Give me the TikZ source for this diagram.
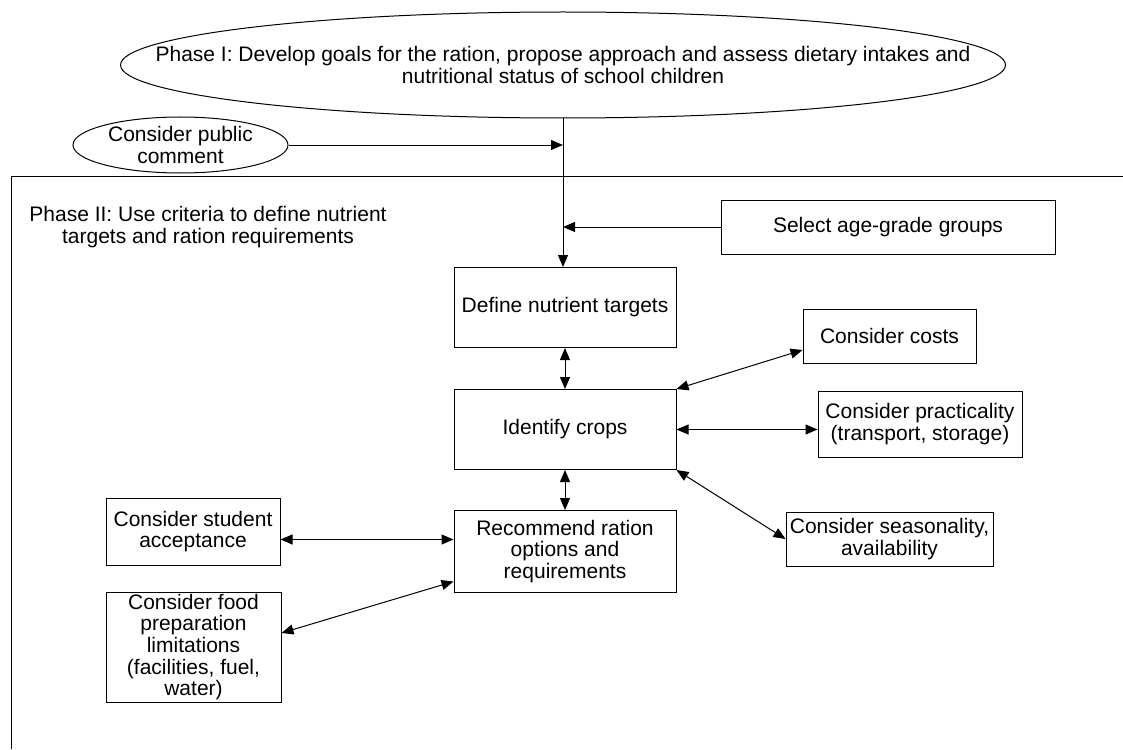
\documentclass[tikz,border=0pt]{standalone}
\usepackage{fontspec}
\setmainfont{Liberation Sans}
\usetikzlibrary{arrows.meta,shapes.geometric,positioning}

\begin{document}
\begin{tikzpicture}[x=0.5pt,y=-0.5pt,node distance=61pt,on grid,
  line width=0.5pt,>={Triangle[length=6pt,width=5pt]},
  every node/.style={font=\fontsize{10.5}{10.8}\selectfont},
  box/.style={draw,rectangle,align=center,inner sep=0pt},
  oval/.style={draw,ellipse,inner sep=0pt}]
  \useasboundingbox (0,0) rectangle (1123,749);
  % phase I and the frame of phase II
  \node[oval,minimum width=442.5pt,minimum height=53pt,
    label={[align=center]center:Phase I: Develop goals for the ration, propose approach and assess dietary intakes and\\nutritional status of school children}] (phase1) at (563,65) {};
  \node[oval,minimum width=107.5pt,minimum height=28pt,
    label={[align=center]center:Consider public\\comment}] (public) at (180.5,145) {};
  \draw (1123,176) -| (11,749);
  \node[align=center] (phase2) at (208,227) {Phase II: Use criteria to define nutrient\\targets and ration requirements};
  \node[box,minimum width=167pt,minimum height=27pt] (select) at (888,227) {Select age-grade groups};
  % main column
  \node[box,minimum width=111pt,minimum height=40pt] (define) at (565,307.5) {Define nutrient targets};
  \node[box,minimum width=111pt,minimum height=40pt] (crops) [below = of define] {Identify crops};
  \node[box,minimum width=111pt,minimum height=41pt] (recommend) [below = of crops] {Recommend ration\\options and\\requirements};
  % side boxes
  \node[box,minimum width=86.5pt,minimum height=27pt] (costs) at (889.5,336) {Consider costs};
  \node[box,minimum width=102pt,minimum height=33pt] (practical) at (920,424) {Consider practicality\\(transport, storage)};
  \node[box,minimum width=103.5pt,minimum height=27pt] (season) at (889.5,539) {Consider seasonality,\\availability};
  \node[box,minimum width=87pt,minimum height=33.5pt] (student) at (193,531.5) {Consider student\\acceptance};
  \node[box,minimum width=87.5pt,minimum height=55pt] (food) at (193.5,647) {Consider food\\preparation\\limitations\\(facilities, fuel,\\water)};
  \path[->]
  (phase1.south) edge (phase1.south |- define.north)
  (public.east) edge (public.east -| phase1.south)
  (select.west) edge (select.west -| phase1.south)
  ;
  \path[<->]
  (define) edge (crops)
  (crops) edge (recommend)
  (crops.north east) edge ([yshift=-7pt]costs.west)
  (crops.east) edge (crops.east -| practical.west)
  (crops.south east) edge (season.west)
  ([yshift=-4pt]student.east) edge ([yshift=-4pt]student.east -| recommend.west)
  ([yshift=7pt]food.east) edge ([yshift=-15pt]recommend.west)
  ;
\end{tikzpicture}
\end{document}
